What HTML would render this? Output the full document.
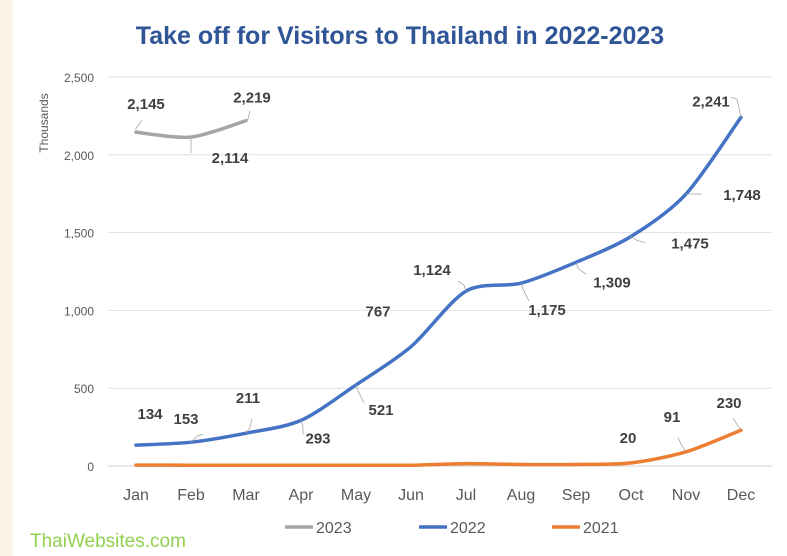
<!DOCTYPE html>
<html><head><meta charset="utf-8"><style>
body{margin:0;width:787px;height:556px;overflow:hidden;background:#fff;font-family:"Liberation Sans Narrow","Liberation Sans",sans-serif}
svg text{font-family:"Liberation Sans Narrow","Liberation Sans",sans-serif}
</style></head><body>
<svg id="c" width="787" height="556" style="position:absolute;left:0;top:0">
<rect x="0" y="0" width="13" height="556" fill="#fdf3e6"/>
<text x="400" y="44" text-anchor="middle" font-size="25" font-weight="bold" fill="#2f5597">Take off for Visitors to Thailand in 2022-2023</text>
<text x="30" y="547" font-size="19" fill="#92d050">ThaiWebsites.com</text>
<g id="grid"></g><g id="series"></g><g id="labels"></g><g id="legend"></g>
</svg>
<script>
const months=["Jan","Feb","Mar","Apr","May","Jun","Jul","Aug","Sep","Oct","Nov","Dec"];
const yTicks=[0,500,1000,1500,2000,2500];
const v2023=[2145,2114,2219];
const v2022=[134,153,211,293,521,767,1124,1175,1309,1475,1748,2241];
const v2021=[6,5,5,5,5,5,15,10,10,20,91,230];
const ns="http://www.w3.org/2000/svg";
function X(i){return 136+i*55;}
function Y(v){return 466-v*(389/2500);}
function mk(tag,attrs,parent,txt){const e=document.createElementNS(ns,tag);for(const k in attrs)e.setAttribute(k,attrs[k]);if(txt!==undefined)e.textContent=txt;parent.appendChild(e);return e;}
const grid=document.getElementById('grid');
yTicks.forEach(t=>{
 const l=mk('line',{x1:108,x2:772,y1:Y(t),y2:Y(t),stroke:t===0?'#d0d0d0':'#e0e0e0','stroke-width':1},grid);
 
 
 const tx=mk('text',{x:94,y:Y(t)+5,'text-anchor':'end','font-size':12,fill:'#595959'},grid,t.toLocaleString('en-US'));
 
 
});
const yt=mk('text',{transform:'translate(48,123) rotate(-90)','text-anchor':'middle','font-size':12,fill:'#595959'},grid,'Thousands');


months.forEach((m,i)=>{
 const t=mk('text',{x:X(i),y:500,'text-anchor':'middle','font-size':16,fill:'#595959'},grid,m);
 
 
});
function path(vals){
 const p=vals.map((v,i)=>[X(i),Y(v)]);
 let d='M'+p[0][0]+','+p[0][1];
 for(let i=0;i<p.length-1;i++){
  const p0=p[Math.max(0,i-1)],p1=p[i],p2=p[i+1],p3=p[Math.min(p.length-1,i+2)];
  const k=1/7;
  d+=' C'+(p1[0]+(p2[0]-p0[0])*k)+','+(p1[1]+(p2[1]-p0[1])*k)+' '+(p2[0]-(p3[0]-p1[0])*k)+','+(p2[1]-(p3[1]-p1[1])*k)+' '+p2[0]+','+p2[1];
 }
 return d;
}
const S=document.getElementById('series');
const s21=mk('path',{d:path(v2021),fill:'none',stroke:'#ed7d31','stroke-width':3.5,'stroke-linecap':'round'},S);


const s22=mk('path',{d:path(v2022),fill:'none',stroke:'#4472c4','stroke-width':3.5,'stroke-linecap':'round'},S);


const s23=mk('path',{d:path(v2023),fill:'none',stroke:'#a5a5a5','stroke-width':3.5,'stroke-linecap':'round'},S);


const L=document.getElementById('labels');
function lab(i,v,dx,dy,leader){
 const x=X(i),y=Y(v);
 if(leader){mk('polyline',{points:x+','+y+' '+(x+leader[0])+','+(y+leader[1])+' '+(x+leader[2])+','+(y+leader[3]),fill:'none',stroke:'#a6a6a6','stroke-width':0.8},L);}
 const t=mk('text',{x:x+dx,y:y+dy,'text-anchor':'middle','font-size':15,'font-weight':'bold',fill:'#404040'},L,v.toLocaleString('en-US'));
 
 
}
const off22=[[14,-26,null],[-5,-18,[6,-6,12,-8]],[2,-30,[4,-6,6,-14]],[17,23,[2,6,2,14]],[25,30,[2,6,8,18]],[-33,-30,null],[-34,-16,[-2,-6,-8,-10]],[26,32,[2,6,8,18]],[36,25,[2,6,10,12]],[59,12,[6,4,14,6]],[56,6,[8,0,16,0]],[-30,-11,[-4,-18,-10,-20]]];
v2022.forEach((v,i)=>{const o=off22[i];lab(i,v,o[0],o[1],o[2]);});
const off23=[[10,-23,[0,-4,6,-12]],[39,26,[0,2,0,16]],[6,-18,[2,-2,4,-10]]];
v2023.forEach((v,i)=>{const o=off23[i];lab(i,v,o[0],o[1],o[2]);});
const off21={9:[-3,-20,null],10:[-14,-30,[-4,-6,-8,-14]],11:[-12,-22,[-4,-6,-8,-12]]};
v2021.forEach((v,i)=>{if(off21[i]){const o=off21[i];lab(i,v,o[0],o[1],o[2]);}});
const G=document.getElementById('legend');
[["2023","#a5a5a5",285],["2022","#4472c4",419],["2021","#ed7d31",552]].forEach(e=>{
 const g=mk('g',{},G);
 
 
 mk('line',{x1:e[2],x2:e[2]+28,y1:527,y2:527,stroke:e[1],'stroke-width':3.5},g);
 mk('text',{x:e[2]+31,y:533,'font-size':16,fill:'#595959'},g,e[0]);
});
</script>
</body></html>
